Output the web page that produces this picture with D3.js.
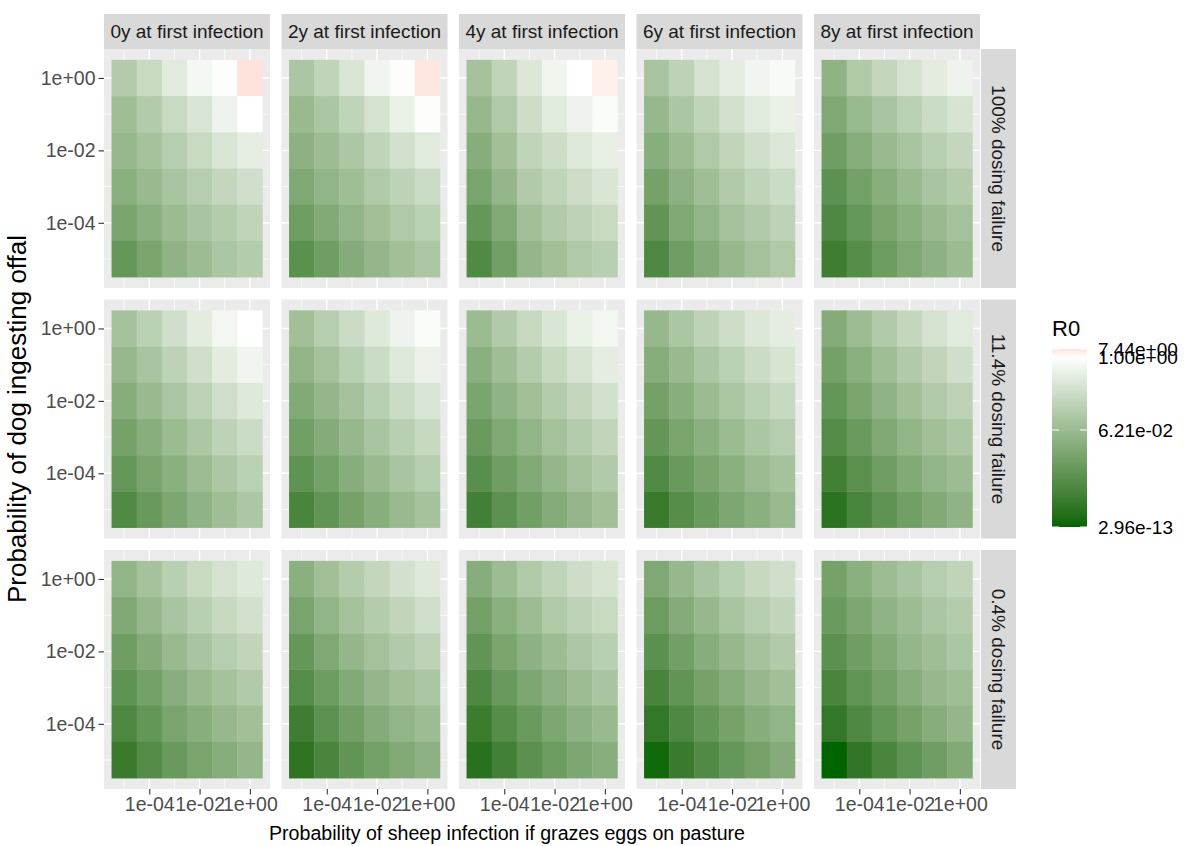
<!DOCTYPE html>
<html><head><meta charset="utf-8">
<script src="https://cdn.jsdelivr.net/npm/d3@7"></script>
<style>
body{margin:0;background:#fff}
svg{display:block}
text{font-family:"Liberation Sans",Arial,sans-serif}
</style>
</head><body>
<svg id="chart" width="1184" height="846"></svg>
<script>
// ---------------- data ----------------
const xValues = [1e-5, 1e-4, 1e-3, 1e-2, 1e-1, 1e0];      // sheep infection probability (columns)
const yValues = [1e0, 1e-1, 1e-2, 1e-3, 1e-4, 1e-5];      // dog ingesting offal (rows, top to bottom)
const ageLabels = ["0y at first infection","2y at first infection","4y at first infection","6y at first infection","8y at first infection"];
const dosingLabels = ["100% dosing failure","11.4% dosing failure","0.4% dosing failure"];
const xTickValues = [1e-4, 1e-2, 1e0];
const xTickLabels = ["1e-04","1e-02","1e+00"];
const yTickValues = [1e0, 1e-2, 1e-4];
const yTickLabels = ["1e+00","1e-02","1e-04"];
const legendBreaks = [7.44, 1.00, 6.21e-2, 2.96e-13];
const legendLabels = ["7.44e+00","1.00e+00","6.21e-02","2.96e-13"];

// R0 per panel: rows = yValues (top to bottom), columns = xValues
const r0_100_0y = [
 [0.122,0.226,0.431,0.75,0.937,7.44],
 [0.070,0.122,0.226,0.355,0.636,1.0],
 [0.024,0.085,0.134,0.226,0.355,0.507],
 [2.5e-3,0.038,0.091,0.134,0.198,0.274],
 [1.0e-4,2.5e-3,0.060,0.091,0.126,0.174],
 [1.6e-6,1.0e-4,6.1e-3,0.066,0.097,0.126]];
const r0_100_2y = [
 [0.097,0.174,0.355,0.678,0.937,5.5],
 [0.038,0.097,0.174,0.312,0.558,0.937],
 [3.9e-3,0.066,0.104,0.174,0.292,0.431],
 [2.5e-4,9.7e-3,0.070,0.111,0.163,0.241],
 [1.0e-5,4.0e-4,9.7e-3,0.075,0.111,0.153],
 [1.7e-7,1.0e-5,6.2e-4,0.015,0.075,0.104]];
const r0_100_4y = [
 [0.085,0.174,0.379,0.678,1.0,3.0],
 [0.024,0.111,0.257,0.431,0.636,0.879],
 [9.9e-4,0.075,0.174,0.257,0.404,0.523],
 [6.4e-5,0.015,0.118,0.174,0.257,0.355],
 [1.6e-6,4.0e-4,0.075,0.118,0.163,0.226],
 [2.7e-8,1.6e-5,0.015,0.075,0.111,0.143]];
const r0_100_6y = [
 [0.091,0.163,0.312,0.491,0.678,0.824],
 [0.024,0.097,0.174,0.292,0.431,0.558],
 [1.6e-3,0.060,0.111,0.186,0.274,0.379],
 [4.0e-5,3.9e-3,0.070,0.118,0.174,0.241],
 [6.6e-7,2.5e-4,9.7e-3,0.080,0.118,0.163],
 [1.7e-8,1.0e-5,6.2e-4,0.024,0.080,0.111]];
const r0_100_8y = [
 [6.1e-3,0.111,0.198,0.312,0.460,0.636],
 [2.5e-4,0.038,0.091,0.153,0.241,0.333],
 [1.0e-5,9.9e-4,0.038,0.091,0.143,0.198],
 [2.7e-7,2.6e-5,1.6e-3,0.038,0.091,0.126],
 [1.7e-8,1.6e-6,1.0e-4,2.5e-3,0.038,0.080],
 [7.0e-10,6.7e-8,6.5e-6,2.5e-4,3.9e-3,0.060]];
const r0_114_0y = [
 [0.085,0.153,0.274,0.460,0.724,1.0],
 [0.024,0.091,0.163,0.274,0.460,0.678],
 [9.9e-4,0.038,0.097,0.163,0.274,0.404],
 [4.0e-5,1.6e-3,0.060,0.104,0.163,0.241],
 [1.6e-6,6.4e-5,2.5e-3,0.066,0.104,0.153],
 [2.7e-8,2.6e-6,1.6e-4,6.1e-3,0.070,0.104]];
const r0_114_2y = [
 [0.075,0.134,0.241,0.404,0.636,0.879],
 [9.7e-3,0.080,0.143,0.241,0.404,0.596],
 [4.0e-4,0.015,0.085,0.143,0.241,0.355],
 [1.6e-5,6.2e-4,0.024,0.091,0.143,0.211],
 [4.2e-7,2.6e-5,9.9e-4,0.038,0.091,0.134],
 [6.9e-9,6.6e-7,4.0e-5,1.6e-3,0.038,0.085]];
const r0_114_4y = [
 [0.060,0.118,0.211,0.355,0.558,0.724],
 [2.5e-3,0.070,0.126,0.211,0.333,0.491],
 [1.0e-4,6.1e-3,0.075,0.126,0.198,0.292],
 [4.1e-6,2.5e-4,9.7e-3,0.080,0.126,0.186],
 [1.1e-7,1.0e-5,4.0e-4,0.015,0.080,0.118],
 [1.7e-9,2.7e-7,1.6e-5,6.2e-4,0.015,0.075]];
const r0_114_6y = [
 [0.024,0.097,0.163,0.257,0.379,0.491],
 [9.9e-4,0.038,0.097,0.153,0.241,0.333],
 [2.6e-5,1.6e-3,0.060,0.097,0.153,0.211],
 [1.0e-6,6.4e-5,2.5e-3,0.060,0.097,0.134],
 [2.7e-8,2.6e-6,1.0e-4,2.5e-3,0.060,0.085],
 [2.8e-10,6.7e-8,4.1e-6,1.6e-4,2.5e-3,0.038]];
const r0_114_8y = [
 [6.2e-4,0.066,0.118,0.198,0.312,0.431],
 [2.6e-5,2.5e-3,0.070,0.118,0.186,0.274],
 [1.0e-6,1.0e-4,6.1e-3,0.075,0.118,0.163],
 [4.3e-8,4.1e-6,2.5e-4,9.7e-3,0.075,0.104],
 [1.1e-9,1.7e-7,1.0e-5,4.0e-4,9.7e-3,0.066],
 [2.9e-11,6.9e-9,4.2e-7,1.6e-5,4.0e-4,6.1e-3]];
const r0_04_0y = [
 [9.7e-3,0.085,0.143,0.226,0.312,0.404],
 [2.5e-4,0.024,0.091,0.143,0.211,0.292],
 [1.0e-5,6.2e-4,0.038,0.091,0.134,0.186],
 [4.2e-7,2.6e-5,1.6e-3,0.038,0.085,0.118],
 [1.1e-8,1.0e-6,6.4e-5,1.6e-3,0.024,0.075],
 [2.8e-10,4.3e-8,2.6e-6,6.4e-5,9.9e-4,0.015]];
const r0_04_2y = [
 [2.5e-3,0.075,0.126,0.198,0.292,0.404],
 [6.4e-5,9.7e-3,0.080,0.126,0.186,0.274],
 [1.6e-6,2.5e-4,0.015,0.080,0.118,0.163],
 [6.7e-8,6.5e-6,4.0e-4,0.015,0.075,0.097],
 [7.0e-10,2.7e-7,1.6e-5,6.2e-4,9.7e-3,0.066],
 [4.5e-11,6.9e-9,6.6e-7,2.6e-5,4.0e-4,3.9e-3]];
const r0_04_4y = [
 [9.9e-4,0.066,0.111,0.174,0.257,0.333],
 [2.6e-5,2.5e-3,0.066,0.111,0.163,0.226],
 [6.6e-7,1.0e-4,3.9e-3,0.066,0.104,0.143],
 [1.7e-8,2.6e-6,1.6e-4,3.9e-3,0.066,0.091],
 [4.4e-10,6.7e-8,4.1e-6,1.6e-4,3.9e-3,0.038],
 [1.8e-11,1.7e-9,1.7e-7,6.5e-6,1.6e-4,1.6e-3]];
const r0_04_6y = [
 [2.5e-4,0.024,0.091,0.143,0.211,0.274],
 [6.5e-6,6.2e-4,0.024,0.091,0.134,0.186],
 [1.7e-7,1.6e-5,9.9e-4,0.024,0.085,0.118],
 [4.3e-9,6.6e-7,4.0e-5,9.9e-4,0.024,0.075],
 [1.1e-10,1.7e-8,1.0e-6,4.0e-5,9.9e-4,9.7e-3],
 [1.2e-12,2.8e-10,2.7e-8,1.6e-6,4.0e-5,6.2e-4]];
const r0_04_8y = [
 [4.0e-5,2.5e-3,0.066,0.091,0.134,0.174],
 [4.1e-6,1.6e-4,6.1e-3,0.066,0.097,0.126],
 [1.7e-7,1.0e-5,4.0e-4,0.015,0.070,0.097],
 [6.9e-9,6.6e-7,2.6e-5,9.9e-4,0.024,0.070],
 [1.1e-10,1.7e-8,1.0e-6,4.0e-5,9.9e-4,0.015],
 [2.96e-13,7.1e-11,6.9e-9,4.2e-7,1.0e-5,4.0e-4]];

const panelGrid = [
 [r0_100_0y, r0_100_2y, r0_100_4y, r0_100_6y, r0_100_8y],
 [r0_114_0y, r0_114_2y, r0_114_4y, r0_114_6y, r0_114_8y],
 [r0_04_0y,  r0_04_2y,  r0_04_4y,  r0_04_6y,  r0_04_8y]];

// ---------------- layout ----------------
const W = 1184, H = 846;
const panelX0 = 104, pitchX = 177.5, panelW = 166;
const panelY0 = 49, pitchY = 250.5, panelH = 239;
const stripH = 35;
const tickFont = "19.5px", stripFont = "19px";

const svg = d3.select("#chart");
svg.append("rect").attr("width", W).attr("height", H).attr("fill", "#fff");

const lgMin = -5.8, lgMax = 0.8;
const x = d3.scaleLog().domain([10 ** lgMin, 10 ** lgMax]).range([0, panelW]);
const y = d3.scaleLog().domain([10 ** lgMin, 10 ** lgMax]).range([panelH, 0]);
const half = Math.sqrt(10);

// colour: legend position via piecewise log scale, then green-white-pink gradient
const legendPos = d3.scaleLinear()
  .domain([Math.log10(2.96e-13), Math.log10(6.21e-2), 0, Math.log10(7.44)])
  .range([0, 0.545, 0.955, 1]).clamp(true);
const greenWhite = d3.interpolateLab("#006400", "#ffffff");
const whitePink = d3.interpolateLab("#ffffff", "#fde3db");
function colourAt(p) {
  return p <= 0.955 ? greenWhite(p / 0.955) : whitePink((p - 0.955) / 0.045);
}
const fill = v => colourAt(legendPos(Math.log10(v)));

const minorBreaks = [1e-5, 1e-3, 1e-1];

panelGrid.forEach((rowPanels, ri) => {
  rowPanels.forEach((mat, ci) => {
    const px = panelX0 + ci * pitchX, py = panelY0 + ri * pitchY;
    const g = svg.append("g").attr("transform", `translate(${px},${py})`);
    g.append("rect").attr("width", panelW).attr("height", panelH).attr("fill", "#ebebeb");
    minorBreaks.forEach(b => {
      g.append("line").attr("x1", x(b)).attr("x2", x(b)).attr("y1", 0).attr("y2", panelH).attr("stroke", "#fff").attr("stroke-width", 0.7);
      g.append("line").attr("y1", y(b)).attr("y2", y(b)).attr("x1", 0).attr("x2", panelW).attr("stroke", "#fff").attr("stroke-width", 0.7);
    });
    xTickValues.forEach(b => {
      g.append("line").attr("x1", x(b)).attr("x2", x(b)).attr("y1", 0).attr("y2", panelH).attr("stroke", "#fff").attr("stroke-width", 1.4);
    });
    yTickValues.forEach(b => {
      g.append("line").attr("y1", y(b)).attr("y2", y(b)).attr("x1", 0).attr("x2", panelW).attr("stroke", "#fff").attr("stroke-width", 1.4);
    });
    const cells = [];
    mat.forEach((row, r) => row.forEach((v, c) => cells.push({xv: xValues[c], yv: yValues[r], v})));
    g.selectAll("rect.tile").data(cells).enter().append("rect").attr("class", "tile")
      .attr("x", d => x(d.xv / half))
      .attr("width", d => x(d.xv * half) - x(d.xv / half) + 0.3)
      .attr("y", d => y(d.yv * half))
      .attr("height", d => y(d.yv / half) - y(d.yv * half) + 0.3)
      .attr("fill", d => fill(d.v));

    if (ci === 0) {
      const ay = g.append("g").call(d3.axisLeft(y).tickValues(yTickValues).tickFormat((d, i) => yTickLabels[i]).tickSize(5.5).tickPadding(3));
      ay.select(".domain").remove();
      ay.selectAll("line").attr("stroke", "#333").attr("stroke-width", 1.1);
      ay.selectAll("text").attr("fill", "#4d4d4d").style("font-size", tickFont).attr("font-family", null);
    }
    if (ri === 2) {
      const ax = g.append("g").attr("transform", `translate(0,${panelH})`)
        .call(d3.axisBottom(x).tickValues(xTickValues).tickFormat((d, i) => xTickLabels[i]).tickSize(5.5).tickPadding(3));
      ax.select(".domain").remove();
      ax.selectAll("line").attr("stroke", "#333").attr("stroke-width", 1.1);
      ax.selectAll("text").attr("fill", "#4d4d4d").style("font-size", tickFont).attr("font-family", null);
    }
  });
});

// top strips
ageLabels.forEach((lab, ci) => {
  const px = panelX0 + ci * pitchX;
  svg.append("rect").attr("x", px).attr("y", panelY0 - stripH).attr("width", panelW).attr("height", stripH).attr("fill", "#d9d9d9");
  svg.append("text").attr("x", px + panelW / 2).attr("y", panelY0 - stripH / 2).attr("dy", "0.35em")
    .attr("text-anchor", "middle").attr("fill", "#1a1a1a").style("font-size", stripFont).text(lab);
});
// right strips
const stripX = panelX0 + 4 * pitchX + panelW + 1;
dosingLabels.forEach((lab, ri) => {
  const py = panelY0 + ri * pitchY;
  svg.append("rect").attr("x", stripX).attr("y", py).attr("width", stripH).attr("height", panelH).attr("fill", "#d9d9d9");
  svg.append("text").attr("transform", `translate(${stripX + stripH / 2},${py + panelH / 2}) rotate(90)`)
    .attr("dy", "0.35em").attr("text-anchor", "middle").attr("fill", "#1a1a1a").style("font-size", stripFont).text(lab);
});

// axis titles
svg.append("text").attr("x", 507).attr("y", 840).attr("text-anchor", "middle")
  .attr("fill", "#000").style("font-size", "19.6px").text("Probability of sheep infection if grazes eggs on pasture");
svg.append("text").attr("transform", `translate(26,${panelY0 + (2 * pitchY + panelH) / 2}) rotate(-90)`)
  .attr("text-anchor", "middle").attr("fill", "#000").style("font-size", "26px").text("Probability of dog ingesting offal");

// legend
const barX = 1052, barW = 35, barTop = 349, barBot = 527;
const legY = d3.scaleLinear().domain([0, 1]).range([barBot, barTop]);
const defs = svg.append("defs");
const grad = defs.append("linearGradient").attr("id", "lg").attr("x1", 0).attr("x2", 0).attr("y1", 1).attr("y2", 0);
d3.range(0, 1.0001, 0.01).forEach(p => grad.append("stop").attr("offset", p).attr("stop-color", colourAt(p)));
svg.append("rect").attr("x", barX).attr("y", barTop).attr("width", barW).attr("height", barBot - barTop).attr("fill", "url(#lg)");
svg.append("text").attr("x", barX).attr("y", 336).attr("fill", "#000").style("font-size", "22px").text("R0");
legendBreaks.forEach((b, i) => {
  const yy = legY(legendPos(Math.log10(b)));
  svg.append("line").attr("x1", barX).attr("x2", barX + barW * 0.2).attr("y1", yy).attr("y2", yy).attr("stroke", "#fff").attr("stroke-width", 1);
  svg.append("line").attr("x1", barX + barW * 0.8).attr("x2", barX + barW).attr("y1", yy).attr("y2", yy).attr("stroke", "#fff").attr("stroke-width", 1);
  svg.append("text").attr("x", barX + barW + 11).attr("y", yy).attr("dy", "0.35em")
    .attr("fill", "#000").style("font-size", "19px").text(legendLabels[i]);
});
</script>
</body></html>
